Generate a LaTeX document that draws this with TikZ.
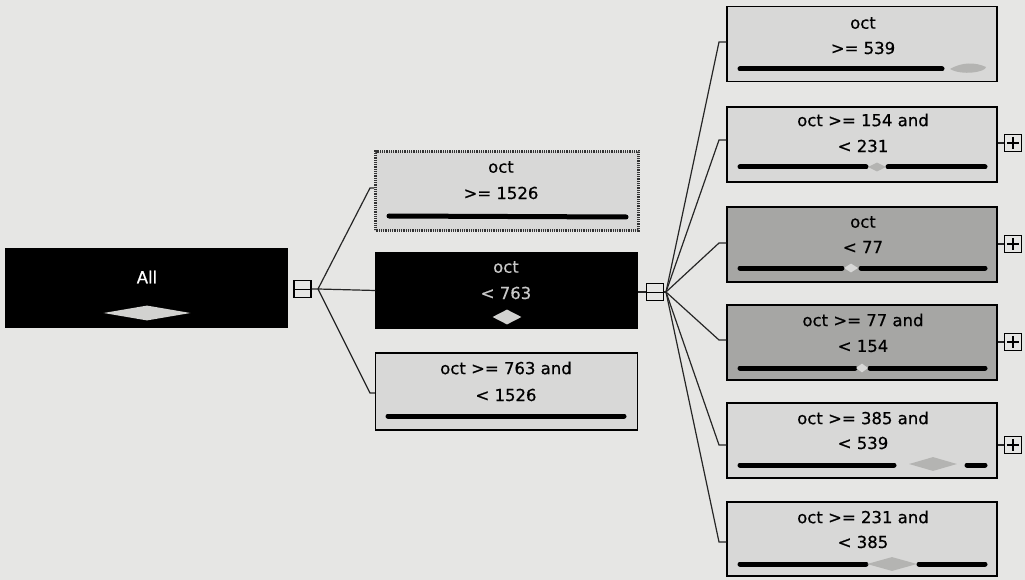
\documentclass[tikz,border=0pt]{standalone}
\usepackage{fontspec}
\setmainfont{DejaVu Sans}
\newfontfamily\lblfont[FakeBold=0.6]{DejaVu Sans}
\usetikzlibrary{shapes.geometric}
\definecolor{bg}{HTML}{E6E6E4}
\definecolor{boxfill}{HTML}{D8D8D7}
\definecolor{darkfill}{HTML}{A6A6A4}
\definecolor{diagray}{HTML}{B4B4B2}
\definecolor{dialight}{HTML}{D2D2D0}
\definecolor{txtlight}{HTML}{C8C8C8}
\tikzset{
  tbox/.style={draw=black, line width=1.4pt, fill=boxfill, inner sep=0pt},
  blackbox/.style={draw=black, fill=black, inner sep=0pt},
  lbl/.style={inner sep=0pt, font=\lblfont\fontsize{16.5}{19}\selectfont, text=black},
  lbldark/.style={lbl, text=txtlight},
  bar/.style={line width=5pt, line cap=round, draw=black},
  conn/.style={line width=1.2pt, draw=black!85},
  expbox/.style={draw=black, line width=1.1pt, fill=bg, minimum width=17pt, minimum height=17pt, inner sep=0pt},
  dia/.style={diamond, fill=diagray, inner sep=0pt, aspect=3},
}
\begin{document}
\begin{tikzpicture}[x=1pt,y=-1pt]
\fill[bg] (0,0) rectangle (1025,580);
\useasboundingbox (0,0) rectangle (1025,580);

% root
\node[blackbox, minimum width=282pt, minimum height=79pt] (root) at (146,287.5) {};
\node[lbldark, text=white] (rootl) at (147,277) {All};
\node[diamond, fill=dialight, inner sep=0pt, minimum width=87pt, minimum height=15pt] (rootd) at (147,313) {};
\draw[line width=1.4pt] (286,274) -- (286,303);
\node[expbox] (m1) at (302.5,289) {};
\draw[line width=1pt] (m1.west) -- (m1.east);

% level 1
\node[tbox, draw=black!80, line width=2.6pt, dash pattern=on 1pt off 0.8pt, minimum width=263pt, minimum height=79pt] (c1) at (507,191) {};
\node[lbl] (c1a) at (501,167) {oct};
\node[lbl] (c1b) at (501,193) {>= 1526};
\draw[bar] (389,216) -- (626,217);

\node[blackbox, minimum width=262pt, minimum height=76pt] (c2) at (506.5,290.5) {};
\node[lbldark] (c2a) at (506,267) {oct};
\node[lbldark] (c2b) at (506,293) {< 763};
\node[diamond, fill=dialight, inner sep=0pt, minimum width=29pt, minimum height=15pt] (c2d) at (507,317) {};

\node[tbox, minimum width=262pt, minimum height=77pt] (c3) at (506.5,391.5) {};
\node[lbl] (c3a) at (506,368) {oct >= 763 and};
\node[lbl] (c3b) at (506,395) {< 1526};
\draw[bar] (388,416) -- (624,416);

\coordinate (j1) at (318,289);
\coordinate (b1) at (370,188);
\coordinate (b3) at (370,393);
\draw[conn] (m1.east) -- (j1) -- (c2.west);
\draw[conn] (j1) -- (b1) -- (c1.west |- b1);
\draw[conn] (j1) -- (b3) -- (c3.west |- b3);

% expander 2
\node[expbox] (m2) at (655,292) {};
\draw[line width=1pt] (m2.west) -- (m2.east);
\draw[conn] (c2.east |- m2) -- (m2.west);
\coordinate (j2) at (666,292);

% level 2
\node[tbox, minimum width=270pt, minimum height=75pt] (d1) at (862,44) {};
\node[lbl] (d1a) at (863,23) {oct};
\node[lbl] (d1b) at (863,48) {>= 539};
\draw[bar] (740,69) -- (942,69);
\fill[diagray] (950,69) .. controls (962,62) and (975,62) .. (986,67) .. controls (986,72) and (962,76) .. (950,69);

\node[tbox, minimum width=270pt, minimum height=75pt] (d2) at (862,144.5) {};
\node[lbl] (d2a) at (863,120) {oct >= 154 and};
\node[lbl] (d2b) at (863,146) {< 231};
\draw[bar] (740,167) -- (866,167);
\draw[bar] (888,167) -- (985,167);
\node[dia, minimum width=18pt, minimum height=9pt] (d2d) at (877,167) {};

\node[tbox, fill=darkfill, minimum width=270pt, minimum height=75pt] (d3) at (862,244.5) {};
\node[lbl] (d3a) at (863,222) {oct};
\node[lbl] (d3b) at (863,247) {< 77};
\draw[bar] (740,268) -- (842,268);
\draw[bar] (861,268) -- (985,268);
\node[diamond, fill=boxfill, inner sep=0pt, minimum width=14pt, minimum height=9pt] (d3d) at (851,268) {};

\node[tbox, fill=darkfill, minimum width=270pt, minimum height=75pt] (d4) at (862,342.5) {};
\node[lbl] (d4a) at (863,320) {oct >= 77 and};
\node[lbl] (d4b) at (863,346) {< 154};
\draw[bar] (740,368) -- (855,368);
\draw[bar] (870,368) -- (985,368);
\node[diamond, fill=boxfill, inner sep=0pt, minimum width=12pt, minimum height=9pt] (d4d) at (862,368) {};

\node[tbox, minimum width=270pt, minimum height=75pt] (d5) at (862,440.5) {};
\node[lbl] (d5a) at (863,418) {oct >= 385 and};
\node[lbl] (d5b) at (863,443) {< 539};
\draw[bar] (740,465) -- (894,465);
\node[dia, minimum width=48pt, minimum height=14pt] (d5d) at (933,464) {};
\draw[bar] (967,465) -- (985,465);

\node[tbox, minimum width=270pt, minimum height=74pt] (d6) at (862,539) {};
\node[lbl] (d6a) at (863,517) {oct >= 231 and};
\node[lbl] (d6b) at (863,542) {< 385};
\draw[bar] (740,564) -- (866,564);
\node[dia, minimum width=50pt, minimum height=14pt] (d6d) at (892,564) {};
\draw[bar] (919,564) -- (985,564);

% fan 2
\foreach \n/\y in {d1/42, d2/140, d3/243, d4/340, d5/445, d6/542}{
  \coordinate (e\n) at (719,\y);
  \draw[conn] (j2) -- (e\n) -- (\n.west |- e\n);
}
\draw[conn] (m2.east) -- (j2);

% plus expanders
\foreach \n/\y in {d2/143, d3/244, d4/342, d5/445}{
  \node[expbox] (p\n) at (1013,\y) {};
  \draw[line width=1.1pt] ([xshift=3pt]p\n.west) -- ([xshift=-3pt]p\n.east) ([yshift=-3pt]p\n.north) -- ([yshift=3pt]p\n.south);
  \draw[conn] (\n.east |- p\n) -- (p\n.west);
}
\end{tikzpicture}
\end{document}
